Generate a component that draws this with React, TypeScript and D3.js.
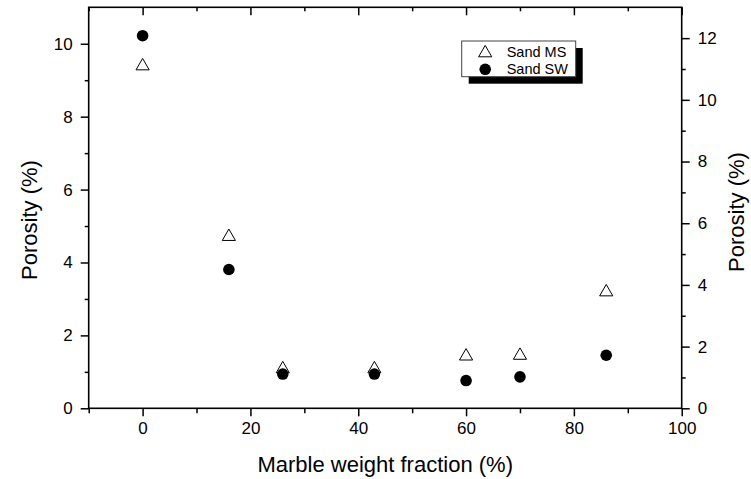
import { useEffect, useRef } from 'react';
import * as d3 from 'd3';

const fractions = [0, 16, 26, 43, 60, 70, 86];
// Sand MS read on the left axis, Sand SW on the right axis
const sandMS = [9.43, 4.75, 1.12, 1.12, 1.47, 1.49, 3.23];
const sandSW = [12.08, 4.5, 1.11, 1.11, 0.9, 1.02, 1.72];

const xMajor = [0, 20, 40, 60, 80, 100];
const xMinor = [-10, 10, 30, 50, 70, 90];
const leftMajor = [0, 2, 4, 6, 8, 10];
const leftMinor = [1, 3, 5, 7, 9];
const rightMajor = [0, 2, 4, 6, 8, 10, 12];
const rightMinor = [1, 3, 5, 7, 9, 11];

const seriesNames = ['Sand MS', 'Sand SW'];

export default function App() {
  const ref = useRef<SVGSVGElement | null>(null);

  useEffect(() => {
    if (!ref.current) return;
    const svg = d3.select(ref.current);
    svg.selectAll('*').remove();

    const left = 88.7;
    const right = 681.7;
    const top = 7.3;
    const bottom = 408.3;
    const font = '"Liberation Sans", Arial, sans-serif';

    const x = d3.scaleLinear().domain([-10, 100]).range([left, right]);
    const yL = d3.scaleLinear().domain([0, 11]).range([bottom, top]);
    const yR = d3.scaleLinear().domain([0, 13]).range([bottom, top]);

    const g = svg.append('g');

    function styleAxis(sel: d3.Selection<SVGGElement, unknown, null, undefined>) {
      sel.select('.domain').remove();
      sel.selectAll('line').attr('stroke', '#000').attr('stroke-width', 1.5);
      sel.selectAll('text').attr('font-family', font).attr('font-size', 17).attr('fill', '#000');
    }

    // bottom axis
    const bMaj = g.append('g').attr('transform', `translate(0,${bottom})`)
      .call(d3.axisBottom(x).tickValues(xMajor).tickSize(8).tickPadding(6).tickFormat(d3.format('d')));
    styleAxis(bMaj);
    const bMin = g.append('g').attr('transform', `translate(0,${bottom})`)
      .call(d3.axisBottom(x).tickValues(xMinor).tickSize(5).tickFormat(() => ''));
    styleAxis(bMin);

    // top axis, ticks inward
    const tMaj = g.append('g').attr('transform', `translate(0,${top})`)
      .call(d3.axisTop(x).tickValues(xMajor).tickSize(-8).tickFormat(() => ''));
    styleAxis(tMaj);
    const tMin = g.append('g').attr('transform', `translate(0,${top})`)
      .call(d3.axisTop(x).tickValues(xMinor).tickSize(-4).tickFormat(() => ''));
    styleAxis(tMin);

    // left axis
    const lMaj = g.append('g').attr('transform', `translate(${left},0)`)
      .call(d3.axisLeft(yL).tickValues(leftMajor).tickSize(8).tickPadding(8).tickFormat(d3.format('d')));
    styleAxis(lMaj);
    const lMin = g.append('g').attr('transform', `translate(${left},0)`)
      .call(d3.axisLeft(yL).tickValues(leftMinor).tickSize(4).tickFormat(() => ''));
    styleAxis(lMin);

    // right axis
    const rMaj = g.append('g').attr('transform', `translate(${right},0)`)
      .call(d3.axisRight(yR).tickValues(rightMajor).tickSize(8).tickPadding(8).tickFormat(d3.format('d')));
    styleAxis(rMaj);
    const rMin = g.append('g').attr('transform', `translate(${right},0)`)
      .call(d3.axisRight(yR).tickValues(rightMinor).tickSize(4).tickFormat(() => ''));
    styleAxis(rMin);

    // frame
    g.append('rect')
      .attr('x', left).attr('y', top)
      .attr('width', right - left).attr('height', bottom - top)
      .attr('fill', 'none').attr('stroke', '#000').attr('stroke-width', 1.6);

    // axis titles
    g.append('text')
      .attr('x', (left + right) / 2).attr('y', 472)
      .attr('text-anchor', 'middle')
      .attr('font-family', font).attr('font-size', 22)
      .text('Marble weight fraction (%)');
    g.append('text')
      .attr('transform', `translate(37,220) rotate(-90)`)
      .attr('text-anchor', 'middle')
      .attr('font-family', font).attr('font-size', 22)
      .text('Porosity (%)');
    g.append('text')
      .attr('transform', `translate(744,212) rotate(-90)`)
      .attr('text-anchor', 'middle')
      .attr('font-family', font).attr('font-size', 22)
      .text('Porosity (%)');

    const tri = d3.symbol().type(d3.symbolTriangle).size(75);

    // Sand MS, open triangles
    g.append('g').selectAll('path')
      .data(fractions.map((f, i) => ({ f, v: sandMS[i] })))
      .join('path')
      .attr('d', tri() as string)
      .attr('transform', (d) => `translate(${x(d.f)},${yL(d.v) + 1.5})`)
      .attr('fill', 'none').attr('stroke', '#000').attr('stroke-width', 1);

    // Sand SW, filled circles
    g.append('g').selectAll('circle')
      .data(fractions.map((f, i) => ({ f, v: sandSW[i] })))
      .join('circle')
      .attr('cx', (d) => x(d.f))
      .attr('cy', (d) => yR(d.v))
      .attr('r', 5.8)
      .attr('fill', '#000');

    // legend with drop shadow
    const lx = 461.7;
    const ly = 41;
    const lw = 114;
    const lh = 35.7;
    g.append('rect').attr('x', lx + 7).attr('y', ly + 7).attr('width', lw).attr('height', lh).attr('fill', '#000');
    g.append('rect').attr('x', lx).attr('y', ly).attr('width', lw).attr('height', lh)
      .attr('fill', '#fff').attr('stroke', '#444').attr('stroke-width', 1);
    g.append('path').attr('d', tri() as string)
      .attr('transform', `translate(${lx + 23.5},${ly + 12})`)
      .attr('fill', 'none').attr('stroke', '#000').attr('stroke-width', 1);
    g.append('circle').attr('cx', lx + 23.5).attr('cy', ly + 28.3).attr('r', 5.8).attr('fill', '#000');
    seriesNames.forEach((name, i) => {
      g.append('text')
        .attr('x', lx + 45).attr('y', ly + 16 + i * 17)
        .attr('font-family', font).attr('font-size', 14.5)
        .text(name);
    });
  }, []);

  return (
    <svg
      ref={ref}
      width={751}
      height={479}
      style={{ position: 'absolute', left: 0, top: 0, background: '#fff' }}
    />
  );
}
